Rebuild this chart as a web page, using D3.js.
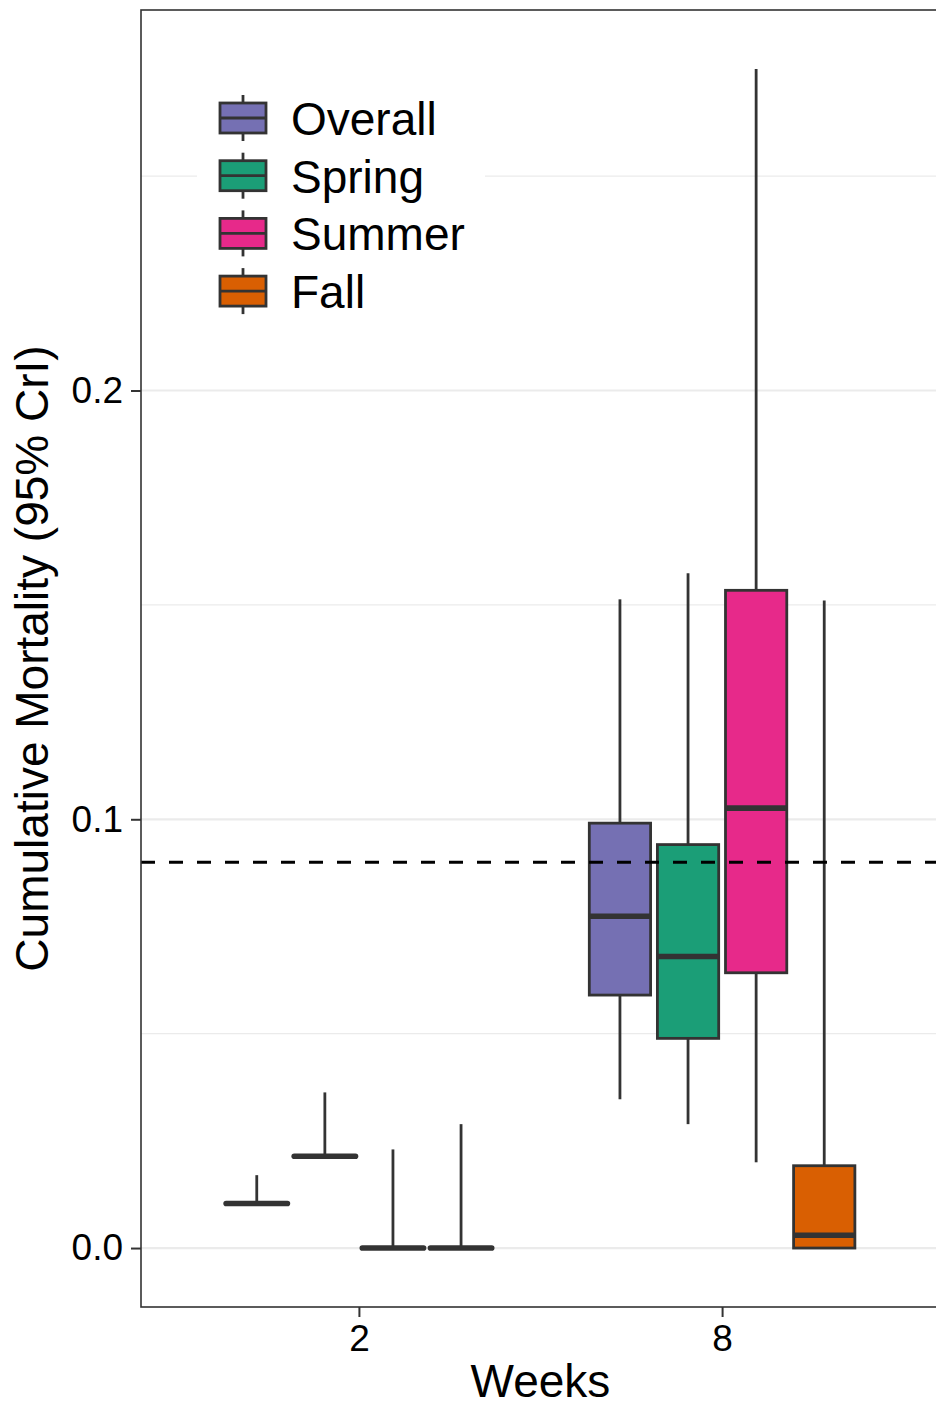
<!DOCTYPE html>
<html>
<head>
<meta charset="utf-8">
<title>Cumulative Mortality by Week</title>
<script src="https://d3js.org/d3.v7.min.js"></script>
<style>
    body { margin: 0; background: #fff; }
    svg { display: block; font-family: "Liberation Sans", Arial, sans-serif; }
</style>
</head>
<body>
<div id="chart"></div>
<script>
    // categories
    var weeks = ["2", "8"]
    var seasons = ["Overall", "Spring", "Summer", "Fall"]

    // box statistics, one row per week, one value per season
    var whiskerLow = [[0.0104, 0.0214, 0, 0], [0.0347, 0.0289, 0.020, 0]]
    var q1 = [[0.0104, 0.0214, 0, 0], [0.059, 0.0489, 0.0642, 0]]
    var median = [[0.0104, 0.0214, 0, 0], [0.0774, 0.068, 0.1026, 0.003]]
    var q3 = [[0.0104, 0.0214, 0, 0], [0.0991, 0.0941, 0.1534, 0.0192]]
    var whiskerHigh = [[0.017, 0.0363, 0.023, 0.0289], [0.1513, 0.1574, 0.275, 0.151]]

    // reference line and tick labels
    var refLine = 0.09
    var yMajor = [0, 0.1, 0.2]
    var yMinor = [0.05, 0.15, 0.25]

    var palette = ["#7570B3", "#1B9E77", "#E7298A", "#D95F02"]
    var ink = "#333333"

    var W = 936, H = 1407
    var panel = { left: 141, right: 940, top: 10, bottom: 1307 }

    var svg = d3.select("#chart").append("svg")
        .attr("width", W)
        .attr("height", H)

    // flatten into rows for drawing
    var rows = []
    weeks.forEach(function (w, i) {
        seasons.forEach(function (s, j) {
            rows.push({ week: w, season: s, lo: whiskerLow[i][j], q1: q1[i][j], med: median[i][j], q3: q3[i][j], hi: whiskerHigh[i][j] })
        })
    })

    // scales (ggplot style 5% expansion on y, 0.6 on discrete x)
    var yMin = d3.min(rows, function (d) { return d.lo })
    var yMax = d3.max(rows, function (d) { return d.hi })
    var pad = (yMax - yMin) * 0.05
    var y = d3.scaleLinear().domain([yMin - pad, yMax + pad]).range([panel.bottom, panel.top])

    var x = d3.scalePoint().domain(weeks).range([panel.left, panel.right]).padding(0.6)
    var dodge = x.step() * 0.75
    var xs = d3.scaleBand().domain(seasons).range([-dodge / 2, dodge / 2])
        .paddingInner(0.1).paddingOuter(0.05)
    var color = d3.scaleOrdinal().domain(seasons).range(palette)

    // gridlines
    svg.append("g").selectAll("line.minor")
        .data(yMinor).enter().append("line")
        .attr("x1", panel.left).attr("x2", panel.right)
        .attr("y1", function (d) { return y(d) }).attr("y2", function (d) { return y(d) })
        .attr("stroke", "#EBEBEB").attr("stroke-width", 1.1)
    svg.append("g").selectAll("line.major")
        .data(yMajor).enter().append("line")
        .attr("x1", panel.left).attr("x2", panel.right)
        .attr("y1", function (d) { return y(d) }).attr("y2", function (d) { return y(d) })
        .attr("stroke", "#EBEBEB").attr("stroke-width", 2.2)

    // boxes
    var boxes = svg.append("g").selectAll("g.box")
        .data(rows).enter().append("g")
        .attr("transform", function (d) { return "translate(" + (x(d.week) + xs(d.season)) + ",0)" })
    var bw = xs.bandwidth()

    boxes.append("line")
        .attr("x1", bw / 2).attr("x2", bw / 2)
        .attr("y1", function (d) { return y(d.q3) }).attr("y2", function (d) { return y(d.hi) })
        .attr("stroke", ink).attr("stroke-width", 2.8)
    boxes.append("line")
        .attr("x1", bw / 2).attr("x2", bw / 2)
        .attr("y1", function (d) { return y(d.q1) }).attr("y2", function (d) { return y(d.lo) })
        .attr("stroke", ink).attr("stroke-width", 2.8)
    boxes.append("rect")
        .attr("x", 0).attr("width", bw)
        .attr("y", function (d) { return y(d.q3) })
        .attr("height", function (d) { return y(d.q1) - y(d.q3) })
        .attr("fill", function (d) { return color(d.season) })
        .attr("stroke", ink).attr("stroke-width", 2.8)
    boxes.append("line")
        .attr("x1", 0).attr("x2", bw)
        .attr("y1", function (d) { return y(d.med) }).attr("y2", function (d) { return y(d.med) })
        .attr("stroke", ink).attr("stroke-width", 5.6)
        .attr("stroke-linecap", function (d) { return d.q1 === d.q3 ? "round" : "butt" })

    // dashed reference line
    svg.append("line")
        .attr("x1", panel.left).attr("x2", panel.right)
        .attr("y1", y(refLine)).attr("y2", y(refLine))
        .attr("stroke", "#000").attr("stroke-width", 3)
        .attr("stroke-dasharray", "14,14")

    // panel border
    svg.append("rect")
        .attr("x", panel.left).attr("y", panel.top)
        .attr("width", panel.right - panel.left).attr("height", panel.bottom - panel.top)
        .attr("fill", "none").attr("stroke", ink).attr("stroke-width", 1.6)

    // axes
    var yAxis = svg.append("g")
        .attr("transform", "translate(" + panel.left + ",0)")
        .call(d3.axisLeft(y).tickValues(yMajor).tickFormat(d3.format(".1f")).tickSize(10).tickPadding(8))
    var xAxis = svg.append("g")
        .attr("transform", "translate(0," + panel.bottom + ")")
        .call(d3.axisBottom(x).tickSize(10).tickPadding(8))
    ;[xAxis, yAxis].forEach(function (a) {
        a.select(".domain").remove()
        a.selectAll(".tick line").attr("stroke", ink).attr("stroke-width", 2)
        a.selectAll(".tick text").attr("fill", "#000").style("font-size", "37px")
            .style("font-family", "'Liberation Sans', Arial, sans-serif")
    })
    xAxis.selectAll(".tick text").attr("dy", "0.71em")

    // axis titles
    svg.append("text")
        .attr("x", (panel.left + panel.right) / 2)
        .attr("y", 1397)
        .attr("text-anchor", "middle")
        .style("font-size", "46px")
        .text("Weeks")
    svg.append("text")
        .attr("transform", "translate(48," + ((panel.top + panel.bottom) / 2) + ") rotate(-90)")
        .attr("text-anchor", "middle")
        .style("font-size", "46px")
        .text("Cumulative Mortality (95% CrI)")

    // legend
    var legend = svg.append("g")
    legend.append("rect")
        .attr("x", 197).attr("y", 62).attr("width", 288).attr("height", 286)
        .attr("fill", "#fff")
    var keyStep = 57.7
    var keys = legend.selectAll("g.key")
        .data(seasons).enter().append("g")
        .attr("transform", function (d, i) { return "translate(220," + (118 + i * keyStep) + ")" })
    keys.append("line")
        .attr("x1", 23).attr("x2", 23).attr("y1", -23).attr("y2", 23)
        .attr("stroke", ink).attr("stroke-width", 2.8)
    keys.append("rect")
        .attr("x", 0).attr("y", -15).attr("width", 46).attr("height", 30)
        .attr("fill", function (d) { return color(d) })
        .attr("stroke", ink).attr("stroke-width", 2.8)
    keys.append("line")
        .attr("x1", 0).attr("x2", 46).attr("y1", 0).attr("y2", 0)
        .attr("stroke", ink).attr("stroke-width", 2.8)
    keys.append("text")
        .attr("x", 71).attr("y", 17)
        .style("font-size", "46px")
        .text(function (d) { return d })
</script>
</body>
</html>
